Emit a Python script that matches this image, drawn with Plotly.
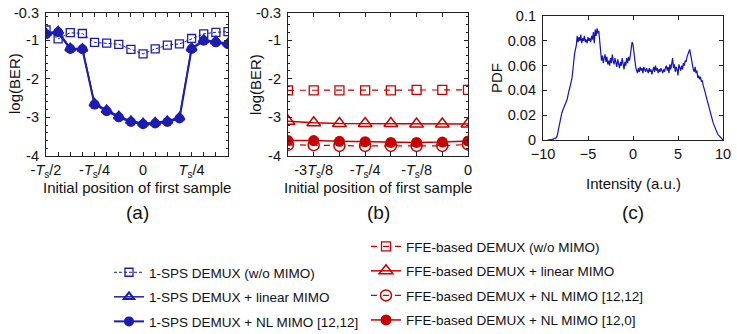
import numpy as np
import plotly.graph_objects as go

# ---------------- data ----------------
# panel (a): sampling offset in units of Ts/16
a_pos = [-8, -7, -6, -5, -4, -3, -2, -1, 0, 1, 2, 3, 4, 5, 6, 7]
a_wo = [-0.74, -0.97, -0.81, -0.83, -1.06, -1.08, -1.11, -1.24, -1.36, -1.23, -1.13, -1.10, -0.96, -0.84, -0.80, -0.78]
a_lin = [-0.82, -0.77, -1.21, -1.22, -2.64, -2.81, -2.97, -3.09, -3.15, -3.13, -3.09, -3.00, -1.21, -0.99, -1.03, -1.08]
a_nl = [-0.85, -0.80, -1.23, -1.24, -2.67, -2.84, -3.00, -3.12, -3.18, -3.16, -3.12, -3.03, -1.23, -1.02, -1.06, -1.11]
a_tickpos = [-8, -4, 0, 4]
a_ticktext = ["-<i>T</i><sub>s</sub>/2", "-<i>T</i><sub>s</sub>/4", "0", "<i>T</i><sub>s</sub>/4"]

# panel (b)
b_pos = [-7, -6, -5, -4, -3, -2, -1, 0]
b_wo = [-2.30, -2.30, -2.30, -2.30, -2.30, -2.29, -2.29, -2.29]
b_lin = [-3.10, -3.14, -3.16, -3.16, -3.16, -3.17, -3.17, -3.17]
b_nl1212 = [-3.71, -3.72, -3.74, -3.74, -3.74, -3.74, -3.74, -3.70]
b_nl120 = [-3.60, -3.60, -3.62, -3.63, -3.65, -3.65, -3.64, -3.61]
b_tickpos = [-6, -4, -2, 0]
b_ticktext = ["-3<i>T</i><sub>s</sub>/8", "-<i>T</i><sub>s</sub>/4", "-<i>T</i><sub>s</sub>/8", "0"]

y_tickvals = [-4, -3, -2, -1, -0.3]
y_ticktext = ["-4", "-3", "-2", "-1", "-0.3"]

# panel (c): PDF of intensity, x from -9.5 to 10 in steps of 0.1
c_x = np.round(np.arange(-9.5, 10.0001, 0.1), 1)
c_pdf = [
    0, 0, 0, 0, 0.0005, 0, 0.0005, 0.001, 0.001, 0.0015,
    0.002, 0.004, 0.008, 0.012, 0.016, 0.019, 0.022, 0.024, 0.026, 0.027,
    0.029, 0.031, 0.033, 0.037, 0.040, 0.042, 0.045, 0.049, 0.055, 0.064,
    0.069, 0.073, 0.076, 0.084, 0.079, 0.083, 0.080, 0.085, 0.078, 0.082,
    0.080, 0.084, 0.079, 0.081, 0.078, 0.083, 0.080, 0.082, 0.079, 0.084,
    0.081, 0.087, 0.078, 0.089, 0.084, 0.090, 0.086, 0.088, 0.080, 0.071,
    0.064, 0.068, 0.062, 0.066, 0.069, 0.063, 0.067, 0.061, 0.064, 0.060,
    0.066, 0.062, 0.069, 0.064, 0.061, 0.066, 0.063, 0.059, 0.065, 0.062,
    0.058, 0.063, 0.060, 0.066, 0.061, 0.057, 0.063, 0.060, 0.066, 0.062,
    0.067, 0.064, 0.068, 0.074, 0.079, 0.077, 0.070, 0.064, 0.059, 0.056,
    0.054, 0.058, 0.055, 0.059, 0.056, 0.058, 0.054, 0.059, 0.057, 0.055,
    0.058, 0.056, 0.054, 0.058, 0.055, 0.057, 0.053, 0.056, 0.059, 0.055,
    0.060, 0.056, 0.058, 0.054, 0.057, 0.055, 0.058, 0.056, 0.054, 0.057,
    0.055, 0.058, 0.060, 0.056, 0.059, 0.054, 0.061, 0.057, 0.063, 0.066,
    0.058, 0.061, 0.055, 0.059, 0.057, 0.052, 0.061, 0.058, 0.056, 0.060,
    0.057, 0.062, 0.060, 0.064, 0.063, 0.067, 0.070, 0.071, 0.073, 0.068,
    0.064, 0.060, 0.057, 0.055, 0.059, 0.054, 0.056, 0.050, 0.052, 0.049,
    0.051, 0.047, 0.048, 0.044, 0.042, 0.039, 0.036, 0.033, 0.030, 0.028,
    0.025, 0.022, 0.020, 0.017, 0.014, 0.012, 0.010, 0.008, 0.006, 0.005,
    0.004, 0.003, 0.002, 0.001, 0.0005, 0,
]
c_xticks = [-10, -5, 0, 5, 10]
c_yticks = [0, 0.02, 0.04, 0.06, 0.08, 0.1]
c_yticktext = ["0", "0.02", "0.04", "0.06", "0.08", "0.1"]

legend_a = ["1-SPS DEMUX (w/o MIMO)", "1-SPS DEMUX + linear MIMO", "1-SPS DEMUX + NL MIMO [12,12]"]
legend_b = ["FFE-based DEMUX (w/o MIMO)", "FFE-based DEMUX + linear MIMO",
            "FFE-based DEMUX + NL MIMO [12,12]", "FFE-based DEMUX + NL MIMO [12,0]"]

# ---------------- styling ----------------
BLUE = "#1c1cb0"
RED = "#c80000"
FONT = "Liberation Sans, Arial, Helvetica, sans-serif"
W, H = 737, 334
TICK_SIZE = 14.5
TITLE_SIZE = 15
PANEL_SIZE = 19
LEG_SIZE = 13.5

def px_x(p):
    return p / W

def px_y(p):
    return 1 - p / H

fig = go.Figure()

# panel (a)
fig.add_trace(go.Scatter(x=a_pos, y=a_wo, mode="lines+markers", name=legend_a[0],
                         line=dict(color=BLUE, width=1, dash="3px,2px"),
                         marker=dict(symbol="square-open", size=8, color=BLUE, line=dict(width=1.3)),
                         xaxis="x", yaxis="y", legend="legend", legendgroup="a1"))
fig.add_trace(go.Scatter(x=a_pos, y=a_lin, mode="lines+markers", name=legend_a[1],
                         line=dict(color=BLUE, width=1.5),
                         marker=dict(symbol="triangle-up-open", size=9, color=BLUE, line=dict(width=2)),
                         xaxis="x", yaxis="y", legend="legend", legendgroup="a2"))
fig.add_trace(go.Scatter(x=a_pos, y=a_nl, mode="lines+markers", name=legend_a[2],
                         line=dict(color=BLUE, width=2),
                         marker=dict(symbol="circle", size=10, color=BLUE),
                         xaxis="x", yaxis="y", legend="legend", legendgroup="a3"))

# panel (b)
fig.add_trace(go.Scatter(x=b_pos, y=b_wo, mode="lines+markers", name=legend_b[0],
                         line=dict(color=RED, width=1.2, dash="6px,6px"),
                         marker=dict(symbol="square-open", size=9, color=RED, line=dict(width=1.3)),
                         xaxis="x2", yaxis="y2", legend="legend2", legendgroup="b1"))
fig.add_trace(go.Scatter(x=b_pos, y=b_lin, mode="lines+markers", name=legend_b[1],
                         line=dict(color=RED, width=1.5),
                         marker=dict(symbol="triangle-up-open", size=12, color=RED, line=dict(width=1.5)),
                         xaxis="x2", yaxis="y2", legend="legend2", legendgroup="b2"))
fig.add_trace(go.Scatter(x=b_pos, y=b_nl1212, mode="lines+markers", name=legend_b[2],
                         line=dict(color=RED, width=1.2, dash="6px,6px"),
                         marker=dict(symbol="circle-open", size=11, color=RED, line=dict(width=1.5)),
                         xaxis="x2", yaxis="y2", legend="legend2", legendgroup="b3"))
fig.add_trace(go.Scatter(x=b_pos, y=b_nl120, mode="lines+markers", name=legend_b[3],
                         line=dict(color=RED, width=1.5),
                         marker=dict(symbol="circle", size=11, color=RED),
                         xaxis="x2", yaxis="y2", legend="legend2", legendgroup="b4"))

# panel (c)
fig.add_trace(go.Scatter(x=c_x, y=c_pdf, mode="lines", showlegend=False,
                         line=dict(color="#1414b4", width=1.2),
                         xaxis="x3", yaxis="y3"))

def axis_common():
    return dict(showline=True, linecolor="#222", linewidth=1.2, mirror="ticks",
                ticks="inside", ticklen=4, tickwidth=1, tickcolor="#222", showgrid=False,
                zeroline=False, automargin=False,
                tickfont=dict(family=FONT, size=TICK_SIZE, color="#111"))

ydom_ab = [px_y(156), px_y(13)]
ydom_c = [px_y(140), px_y(16)]

minor_x = dict(ticks="inside", ticklen=4, tickmode="linear", tick0=0, dtick=1, tickcolor="#222")
minor_y = dict(ticks="inside", ticklen=2, tickmode="linear", tick0=0, dtick=0.2, tickcolor="#222")

fig.update_layout(
    template="none",
    width=W, height=H,
    margin=dict(l=0, r=0, t=0, b=0, autoexpand=False),
    paper_bgcolor="white", plot_bgcolor="white",
    font=dict(family=FONT, size=13, color="#111"),
    xaxis=dict(domain=[px_x(46), px_x(228)], range=[-8, 7], tickmode="array",
               tickvals=a_tickpos, ticktext=a_ticktext, anchor="y", minor=minor_x, **axis_common()),
    yaxis=dict(domain=ydom_ab, range=[-4, -0.3], tickmode="array", tickvals=y_tickvals,
               ticktext=y_ticktext, anchor="x", minor=minor_y, ticklabelstandoff=3, **axis_common()),
    xaxis2=dict(domain=[px_x(288), px_x(468)], range=[-7, 0], tickmode="array",
                tickvals=b_tickpos, ticktext=b_ticktext, anchor="y2", minor=minor_x, **axis_common()),
    yaxis2=dict(domain=ydom_ab, range=[-4, -0.3], tickmode="array", tickvals=y_tickvals,
                ticktext=y_ticktext, anchor="x2", minor=minor_y, ticklabelstandoff=3, **axis_common()),
    xaxis3=dict(domain=[px_x(543), px_x(723)], range=[-10, 10], tickmode="array",
                tickvals=c_xticks, anchor="y3", **axis_common()),
    yaxis3=dict(domain=ydom_c, range=[0, 0.1], tickmode="array", tickvals=c_yticks,
                ticktext=c_yticktext, anchor="x3", ticklabelstandoff=3, **axis_common()),
    legend=dict(x=px_x(109), y=px_y(257), xanchor="left", yanchor="top",
                font=dict(family=FONT, size=LEG_SIZE, color="#111"), bgcolor="rgba(0,0,0,0)",
                tracegroupgap=4, itemwidth=30, borderwidth=0),
    legend2=dict(x=px_x(366), y=px_y(231), xanchor="left", yanchor="top",
                 font=dict(family=FONT, size=LEG_SIZE, color="#111"), bgcolor="rgba(0,0,0,0)",
                 tracegroupgap=4, itemwidth=30, borderwidth=0),
)

ann = []
def add_text(text, x, y, size=13, angle=0):
    ann.append(dict(text=text, x=px_x(x), y=px_y(y), xref="paper", yref="paper",
                    showarrow=False, textangle=angle, xanchor="center", yanchor="middle",
                    font=dict(family=FONT, size=size, color="#111")))

add_text("log(BER)", 14, 84, TITLE_SIZE, -90)
add_text("log(BER)", 255, 84, TITLE_SIZE, -90)
add_text("PDF", 497, 78, TITLE_SIZE, -90)
add_text("Initial position of first sample", 137, 187, TITLE_SIZE)
add_text("Initial position of first sample", 378, 187, TITLE_SIZE)
add_text("Intensity (a.u.)", 633, 183, TITLE_SIZE)
add_text("(a)", 137, 212, PANEL_SIZE)
add_text("(b)", 378, 212, PANEL_SIZE)
add_text("(c)", 633, 212, PANEL_SIZE)
fig.update_layout(annotations=ann)

fig.write_html("out.html", config={"displayModeBar": False},
               post_script="document.body.style.margin='0px';")
